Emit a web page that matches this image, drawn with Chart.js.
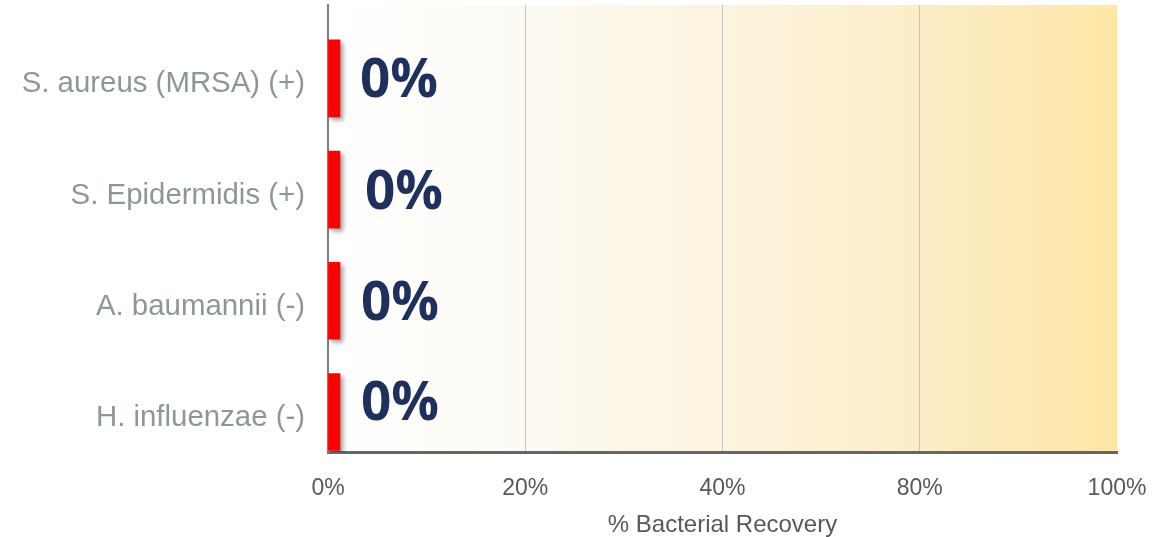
<!DOCTYPE html>
<html>
<head>
<meta charset="utf-8">
<title>Bacterial Recovery</title>
<script src="https://cdn.jsdelivr.net/npm/chart.js@4.4.0/dist/chart.umd.min.js"></script>
<style>
  body { margin: 0; background: #ffffff; }
  #chart { display: block; }
</style>
</head>
<body>
<canvas id="chart" width="1168" height="537"></canvas>
<script>
// Data
const categories = ['S. aureus (MRSA) (+)', 'S. Epidermidis (+)', 'A. baumannii (-)', 'H. influenzae (-)'];
const recovery = [0, 0, 0, 0];
const tickLabels = ['0%', '20%', '40%', '80%', '100%'];

// y range so the bars sit a little low in the plot, like the original
const yMin = -0.66;
const yMax = 3.36;

// the value labels in the original were placed by hand, a bit uneven
const labelNudgeX = [0, 5, 1, 1];
const labelNudgeY = [0, 0, 0, -11];

// Plot background: white fading to pale yellow
const backgroundPlugin = {
    id: 'plotBackground',
    beforeDraw(chart) {
        const { ctx, chartArea } = chart;
        const grad = ctx.createLinearGradient(chartArea.left, 0, chartArea.right, 0);
        grad.addColorStop(0, '#ffffff');
        grad.addColorStop(0.25, '#fcfaf3');
        grad.addColorStop(0.5, '#fcf4df');
        grad.addColorStop(0.75, '#fcedc8');
        grad.addColorStop(1, '#fee7a6');
        ctx.save();
        ctx.fillStyle = grad;
        ctx.fillRect(chartArea.left, chartArea.top, chartArea.right - chartArea.left, chartArea.bottom - chartArea.top);
        ctx.restore();
    }
};

// Soft drop shadow behind the bars
const shadowPlugin = {
    id: 'barShadow',
    beforeDatasetsDraw(chart) {
        const ctx = chart.ctx;
        ctx.save();
        ctx.shadowColor = 'rgba(0, 0, 0, 0.35)';
        ctx.shadowOffsetX = 3;
        ctx.shadowOffsetY = 3;
        ctx.shadowBlur = 4;
    },
    afterDatasetsDraw(chart) {
        chart.ctx.restore();
    }
};

// Big value labels to the right of each bar
const valueLabelPlugin = {
    id: 'valueLabels',
    afterDatasetsDraw(chart) {
        const ctx = chart.ctx;
        const meta = chart.getDatasetMeta(0);
        ctx.save();
        ctx.font = 'bold 53px "Open Sans"';
        ctx.fillStyle = '#1f2f5e';
        ctx.textAlign = 'left';
        ctx.textBaseline = 'middle';
        meta.data.forEach((bar, i) => {
            ctx.fillText(recovery[i] + '%', bar.x + 20 + labelNudgeX[i], bar.y + 4 + labelNudgeY[i]);
        });
        ctx.restore();
    }
};

const ctx = document.getElementById('chart').getContext('2d');

new Chart(ctx, {
    type: 'bar',
    data: {
        datasets: [{
            label: '% Bacterial Recovery',
            data: recovery.map((v, i) => ({ x: v, y: i })),
            backgroundColor: '#ff0000',
            borderWidth: 0,
            barThickness: 77,
            minBarLength: 12,
        }],
    },
    options: {
        indexAxis: 'y',
        responsive: false,
        animation: false,
        layout: {
            padding: { top: 5, right: 51, left: 0, bottom: 0 },
        },
        plugins: {
            legend: { display: false },
            tooltip: { enabled: false },
        },
        scales: {
            x: {
                type: 'linear',
                min: 0,
                max: tickLabels.length - 1,
                afterFit(scale) {
                    scale.height = 85;
                    scale.paddingLeft = 0;
                    scale.paddingRight = 0;
                },
                border: { display: true, color: '#666666', width: 3 },
                grid: {
                    drawTicks: false,
                    lineWidth: 1,
                    color: (c) => (c.index === 0 || c.index === tickLabels.length - 1) ? 'rgba(0,0,0,0)' : '#c4c4c4',
                },
                ticks: {
                    stepSize: 1,
                    padding: 23,
                    color: '#595959',
                    font: { family: '"Liberation Sans", Arial, sans-serif', size: 23 },
                    callback: (v, i) => tickLabels[i],
                },
                title: {
                    display: true,
                    text: '% Bacterial Recovery',
                    color: '#595959',
                    font: { family: '"Liberation Sans", Arial, sans-serif', size: 24, lineHeight: 1.0 },
                    padding: 0,
                },
            },
            y: {
                type: 'linear',
                reverse: true,
                offset: false,
                min: yMin,
                max: yMax,
                afterFit(scale) {
                    scale.width = 328;
                    scale.paddingTop = 0;
                    scale.paddingBottom = 0;
                },
                border: { display: true, color: '#7f7f7f', width: 2 },
                grid: { display: false, drawTicks: false, offset: false },
                ticks: {
                    stepSize: 1,
                    includeBounds: false,
                    padding: 23,
                    labelOffset: 6,
                    color: '#8c9799',
                    font: { family: '"Liberation Sans", Arial, sans-serif', size: 29.4 },
                    callback: (v) => categories[v] ?? '',
                },
            },
        },
    },
    plugins: [backgroundPlugin, shadowPlugin, valueLabelPlugin],
});
</script>
</body>
</html>
